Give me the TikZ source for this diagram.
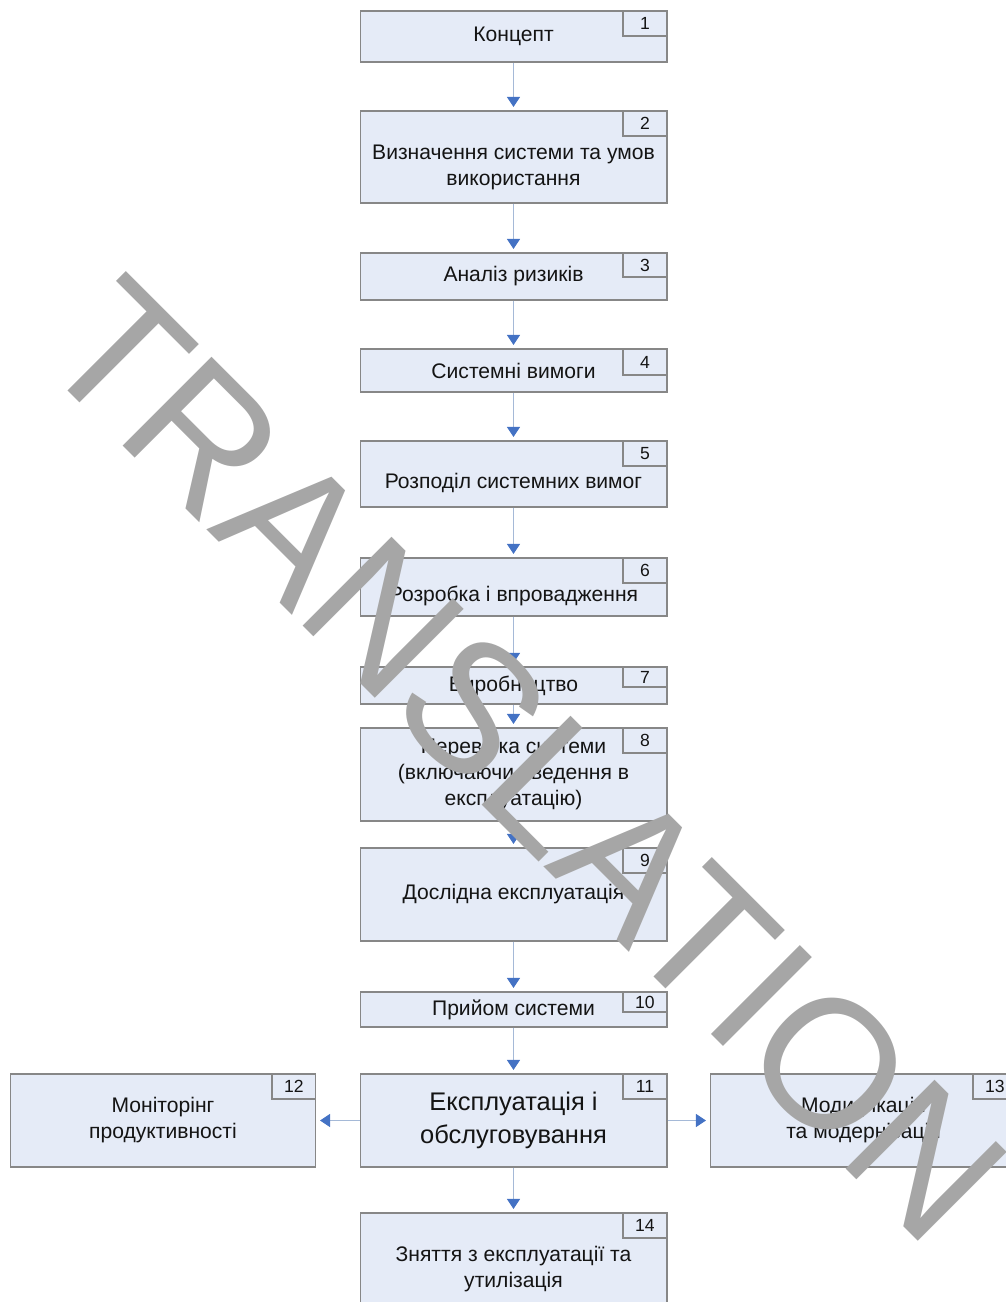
\documentclass[tikz,border=0pt]{standalone}
\usepackage{fontspec}
\setmainfont{Liberation Sans}
\usetikzlibrary{arrows.meta}

\definecolor{boxfill}{RGB}{229,235,247}
\definecolor{boxline}{RGB}{135,135,135}
\definecolor{flowline}{RGB}{165,185,215}
\definecolor{tipblue}{RGB}{68,114,196}
\definecolor{wmgray}{RGB}{166,166,166}
\definecolor{txt}{RGB}{20,20,20}

\begin{document}
\begin{tikzpicture}[x=0.02cm, y=-0.02cm,
    stepbox/.style={draw=boxline, fill=boxfill, line width=0.6pt, minimum width=6.14cm,
      align=center, text=txt, font=\fontsize{12}{14.8}\selectfont},
    numbox/.style={draw=boxline, fill=boxfill, line width=0.6pt, anchor=north east,
      minimum width=0.88cm, minimum height=0.5cm, inner sep=0pt, text=txt,
      font=\fontsize{10}{12}\selectfont},
    lowtext/.style={text height=#1, text depth=2.5pt},
    flow/.style={draw=flowline, line width=0.6pt, shorten >=2pt,
      -{Triangle[color=tipblue, width=0.26cm, length=0.2cm]}},
    watermark/.style={rotate=-45, text=wmgray, inner sep=0pt,
      font=\fontsize{104}{104}\selectfont}]
  \useasboundingbox (0,0) rectangle (1006,1302);
  \clip (0,0) rectangle (1006,1302);

  \node[stepbox, minimum height=1.02cm] (s1) at (513.5,36.5) {Концепт};
  \node[numbox] (n1) at (s1.north east) {1};

  \node[stepbox, minimum height=1.84cm, lowtext=34.9pt] (s2) at (513.5,157)
    {Визначення системи та умов\\використання};
  \node[numbox] (n2) at (s2.north east) {2};

  \node[stepbox, minimum height=0.94cm] (s3) at (513.5,276.5) {Аналіз ризиків};
  \node[numbox, minimum height=0.48cm] (n3) at (s3.north east) {3};

  \node[stepbox, minimum height=0.86cm] (s4) at (513.5,370.5) {Системні вимоги};
  \node[numbox, minimum height=0.52cm] (n4) at (s4.north east) {4};

  \node[stepbox, minimum height=1.32cm, lowtext=19.1pt] (s5) at (513.5,474)
    {Розподіл системних вимог};
  \node[numbox] (n5) at (s5.north east) {5};

  \node[stepbox, minimum height=1.16cm, lowtext=19.1pt] (s6) at (513.5,587)
    {Розробка і впровадження};
  \node[numbox] (n6) at (s6.north east) {6};

  \node[stepbox, minimum height=0.74cm] (s7) at (513.5,685.5) {Виробництво};
  \node[numbox, minimum height=0.4cm] (n7) at (s7.north east) {7};

  \node[stepbox, minimum height=1.86cm] (s8) at (513.5,774.5)
    {Перевірка системи\\(включаючи введення в\\експлуатацію)};
  \node[numbox] (n8) at (s8.north east) {8};

  \node[stepbox, minimum height=1.86cm] (s9) at (513.5,894.5) {Дослідна експлуатація};
  \node[numbox] (n9) at (s9.north east) {9};

  \node[stepbox, minimum height=0.7cm] (s10) at (513.5,1009.5) {Прийом системи};
  \node[numbox, minimum height=0.4cm] (n10) at (s10.north east) {10};

  \node[stepbox, minimum height=1.86cm, font=\fontsize{14.5}{18.7}\selectfont] (s11)
    at (513.5,1120.5) {Експлуатація і\\обслуговування};
  \node[numbox] (n11) at (s11.north east) {11};

  \node[stepbox, minimum width=6.12cm, minimum height=1.86cm] (s12) at (163,1120.5)
    {Моніторінг\\продуктивності};
  \node[numbox] (n12) at (s12.north east) {12};

  \node[stepbox, minimum height=1.86cm] (s13) at (863.5,1120.5)
    {Модифікація\\та модернізація};
  \node[numbox] (n13) at (s13.north east) {13};

  \node[stepbox, minimum height=1.86cm, lowtext=34.9pt] (s14) at (513.5,1259.5)
    {Зняття з експлуатації та\\утилізація};
  \node[numbox] (n14) at (s14.north east) {14};

  \draw[flow] (s1) -- (s2);
  \draw[flow] (s2) -- (s3);
  \draw[flow] (s3) -- (s4);
  \draw[flow] (s4) -- (s5);
  \draw[flow] (s5) -- (s6);
  \draw[flow] (s6) -- (s7);
  \draw[flow] (s7) -- (s8);
  \draw[flow] (s8) -- (s9);
  \draw[flow] (s9) -- (s10);
  \draw[flow] (s10) -- (s11);
  \draw[flow] (s11) -- (s12);
  \draw[flow] (s11) -- (s13);
  \draw[flow] (s11) -- (s14);

  \node[watermark] (wm) at (526,760) {TRANSLATION};
\end{tikzpicture}
\end{document}
